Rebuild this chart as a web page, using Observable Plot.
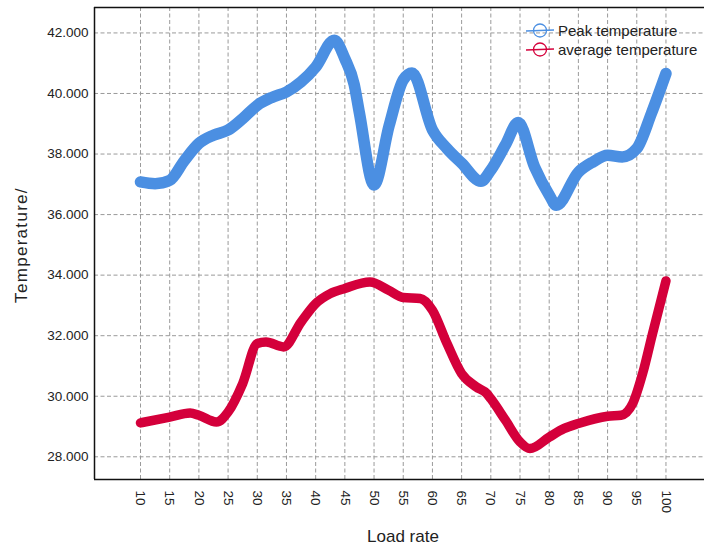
<!DOCTYPE html>
<html>
<head>
<meta charset="utf-8">
<script src="https://cdn.jsdelivr.net/npm/d3@7"></script>
<script src="https://cdn.jsdelivr.net/npm/@observablehq/plot@0.6"></script>
<style>
  body { margin: 0; background: #fff; }
  #wrap { position: relative; width: 704px; height: 546px; overflow: hidden; font-family: "Liberation Sans", Arial, sans-serif; color: #222; }
  #chart { position: absolute; left: 0; top: 0; }
  .ylab { position: absolute; left: 22px; top: 245px; transform: translate(-50%, -50%) rotate(-90deg); font-size: 17px; letter-spacing: 1.3px; white-space: nowrap; }
  .xlab { position: absolute; left: 403px; top: 537px; transform: translate(-50%, -50%); font-size: 17px; white-space: nowrap; }
  .legend { position: absolute; left: 525px; top: 21px; font-size: 15px; line-height: 19px; }
  .legend div { display: flex; align-items: center; height: 19px; }
  .legend svg { margin-right: 3px; }
</style>
</head>
<body>
<div id="wrap">
  <div id="chart"></div>
  <div class="ylab">Temperature/</div>
  <div class="xlab">Load rate</div>
  <div class="legend" id="legend"></div>
</div>
<script>
// Tick values
const xTicks = [10, 15, 20, 25, 30, 35, 40, 45, 50, 55, 60, 65, 70, 75, 80, 85, 90, 95, 100];
const yTicks = [28, 30, 32, 34, 36, 38, 40, 42];
const xDomain = [2.12, 106.6];
const yDomain = [27.25, 42.84];

// Series names / colours
const seriesNames = ["Peak temperature", "average temperature"];
const seriesColors = ["#4b8fe2", "#d4003b"];

// Peak temperature
const peakX = [10, 12.5, 15, 17.5, 20, 22.5, 25, 27.5, 30, 32.5, 35, 37.5, 40, 43.2, 45, 46.6, 47.5, 50, 52.6, 55, 56.5, 60, 62.5, 65, 68.3, 70, 72.5, 74.7, 77.5, 80, 81.2, 85, 87.5, 90, 92.5, 95, 97.5, 100];
const peakY = [37.08, 37.02, 37.13, 37.78, 38.35, 38.62, 38.79, 39.17, 39.61, 39.87, 40.05, 40.38, 40.87, 41.76, 41.15, 40.3, 39.35, 36.98, 38.95, 40.45, 40.68, 38.8, 38.18, 37.70, 37.1, 37.47, 38.3, 39.04, 37.57, 36.65, 36.31, 37.4, 37.74, 37.96, 37.9, 38.18, 39.34, 40.66];

// average temperature
const avgX = [10, 15, 18.5, 20, 23, 25, 27.5, 30, 31.5, 34.5, 37.5, 40, 42.5, 45, 49.3, 52.5, 55, 57.9, 60, 62.5, 65, 67.5, 69.3, 70, 72.5, 75, 76.7, 80, 82.5, 85, 90, 92.3, 94.3, 96, 97.7, 100];
const avgY = [29.12, 29.31, 29.45, 29.37, 29.15, 29.48, 30.42, 31.74, 31.79, 31.63, 32.45, 33.06, 33.39, 33.56, 33.77, 33.50, 33.26, 33.23, 32.84, 31.74, 30.75, 30.31, 30.09, 29.92, 29.21, 28.49, 28.27, 28.65, 28.93, 29.10, 29.34, 29.37, 29.76, 30.75, 32.07, 33.81];

const peak = peakX.map((x, i) => ({x, y: peakY[i]}));
const avg = avgX.map((x, i) => ({x, y: avgY[i]}));

const grid = {stroke: "#9a9a9a", strokeOpacity: 1, strokeWidth: 1, strokeDasharray: "4,2.5"};

const chart = Plot.plot({
  width: 704,
  height: 546,
  marginLeft: 94,
  marginRight: 0,
  marginTop: 7,
  marginBottom: 67,
  style: {fontFamily: "'Liberation Sans', Arial, sans-serif", fontSize: "13.5px", color: "#222", background: "#fff"},
  x: {domain: xDomain, ticks: xTicks, tickFormat: d => String(d), tickRotate: 90, tickSize: 0, tickPadding: 11, label: null},
  y: {domain: yDomain, ticks: yTicks, tickFormat: d3.format(".3f"), tickSize: 0, tickPadding: 6, label: null},
  marks: [
    Plot.gridX(xTicks, grid),
    Plot.gridY(yTicks, grid),
    Plot.line(peak, {x: "x", y: "y", curve: "monotone-x", stroke: seriesColors[0], strokeWidth: 11.5, strokeLinecap: "round", strokeLinejoin: "round"}),
    Plot.line(avg, {x: "x", y: "y", curve: "monotone-x", stroke: seriesColors[1], strokeWidth: 9.5, strokeLinecap: "round", strokeLinejoin: "round"}),
    Plot.ruleX([xDomain[0]], {stroke: "#111", strokeWidth: 1.5}),
    Plot.ruleY([yDomain[0], yDomain[1]], {stroke: "#111", strokeWidth: 1.5})
  ]
});
document.getElementById("chart").appendChild(chart);

// Legend
const legend = document.getElementById("legend");
seriesNames.forEach((name, i) => {
  const row = document.createElement("div");
  row.innerHTML = `<svg width="30" height="19"><line x1="1" y1="10" x2="29" y2="9" stroke="${seriesColors[i]}" stroke-width="1.3"/><circle cx="15" cy="9.5" r="6.5" fill="none" stroke="${seriesColors[i]}" stroke-width="1.3"/></svg><span>${name}</span>`;
  legend.appendChild(row);
});
</script>
</body>
</html>
